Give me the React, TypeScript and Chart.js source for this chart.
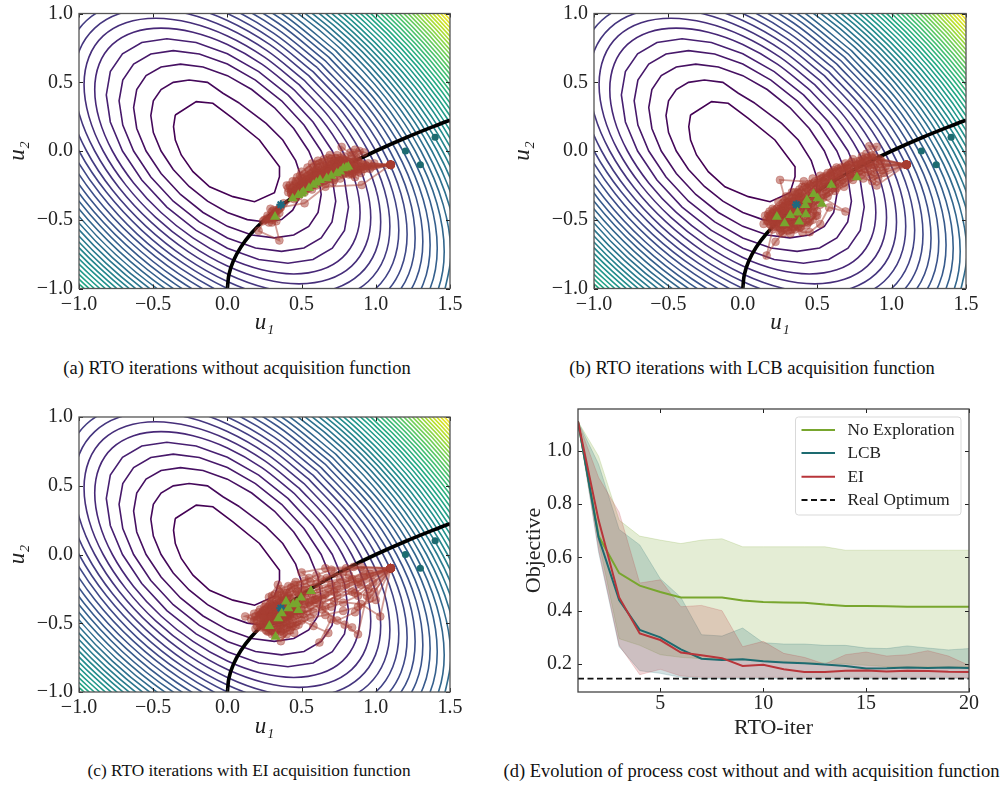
import React, { useEffect, useRef } from "react";
import { Chart, registerables } from "chart.js";
Chart.register(...registerables);

const FONT = "'Liberation Serif', 'Times New Roman', serif";

/* ---------- contour lines: [u1,u2,u1,u2,...] per level ---------- */
const contourLevels = [0.1,0.2,0.3,0.4,0.5,0.6,0.7,0.8,0.9,1.0,1.1,1.2,1.3,1.4,1.5,1.6,1.7,1.8,1.9,2.0,2.1,2.2,2.3,2.4,2.5,2.6,2.7,2.8,2.9,3.0,3.1,3.2,3.3,3.4,3.5,3.6,3.7,3.8,3.9,4.0,4.1,4.2,4.3,4.4,4.5,4.6,4.7];
const contourPaths: number[][][] = [
[[-.351,.262,-.21,.359,-.098,.347,.037,.238,.216,.08,.351,-.114,.351,-.187,.317,-.303,.183,-.369,.037,-.332,-.12,-.26,-.232,-.15,-.311,-.029,-.351,.08,-.363,.177,-.351,.262]],
[[.082,.347,.261,.201,.373,.08,.46,-.07,.50,-.2,.495,-.32,.44,-.43,.365,-.499,.258,-.516,.134,-.499,0,-.447,-.134,-.365,-.258,-.258,-.365,-.134,-.447,0,-.499,.134,-.516,.258,-.499,.365,-.447,.447,-.365,.499,-.258,.516,-.134,.499,-.03,.42,.082,.347]],
[[.316,.316,.447,.164,.548,0,.611,-.164,.632,-.316,.611,-.447,.548,-.548,.447,-.611,.316,-.632,.164,-.611,0,-.548,-.164,-.447,-.316,-.316,-.447,-.164,-.548,0,-.611,.164,-.632,.316,-.611,.447,-.548,.548,-.447,.611,-.316,.632,-.164,.611,0,.548,.164,.447,.316,.316]],
[[.365,.365,.516,.189,.632,0,.705,-.189,.730,-.365,.705,-.516,.632,-.632,.516,-.705,.365,-.730,.189,-.705,0,-.632,-.189,-.516,-.365,-.365,-.516,-.189,-.632,0,-.705,.189,-.730,.365,-.705,.516,-.632,.632,-.516,.705,-.365,.730,-.189,.705,0,.632,.189,.516,.365,.365]],
[[.408,.408,.577,.211,.707,0,.789,-.211,.816,-.408,.789,-.577,.707,-.707,.577,-.789,.408,-.816,.211,-.789,0,-.707,-.211,-.577,-.408,-.408,-.577,-.211,-.707,0,-.789,.211,-.816,.408,-.789,.577,-.707,.707,-.577,.789,-.408,.816,-.211,.789,0,.707,.211,.577,.408,.408]],
[[.447,.447,.632,.232,.775,0,.864,-.232,.894,-.447,.864,-.632,.775,-.775,.632,-.864,.447,-.894,.232,-.864,0,-.775,-.232,-.632,-.447,-.447,-.632,-.232,-.775,0,-.864,.232,-.894,.447,-.864,.632,-.775,.775,-.632,.864,-.447,.894,-.232,.864,0,.775,.232,.632,.447,.447]],
[[.483,.483,.683,.250,.837,0,.933,-.250,.966,-.483,.933,-.683,.837,-.837,.683,-.933,.483,-.966,.250,-.933,0,-.837,-.250,-.683,-.483,-.483,-.683,-.250,-.837,0,-.933,.250,-.966,.483,-.933,.683,-.837,.837,-.683,.933,-.483,.966,-.250,.933,0,.837,.250,.683,.483,.483]],
[[.516,.516,.730,.267,.894,0,.998,-.267,1.033,-.516,.998,-.730,.894,-.894,.730,-.998,.516,-1.033,.267,-.998,0,-.894,-.267,-.730,-.516,-.516,-.730,-.267,-.894,0,-.998,.267,-1.033,.516,-.998,.730,-.894,.894,-.730,.998,-.516,1.033,-.267,.998,0,.894,.267,.730,.516,.516]],
[[.548,.548,.775,.284,.949,0,1.058,-.284,1.095,-.548,1.058,-.775,.949,-.949,.775,-1.058,.548,-1.095,.284,-1.058,0,-.949,-.284,-.775,-.548,-.548,-.775,-.284,-.949,0,-1.058,.284,-1.095,.548,-1.058,.775,-.949,.949,-.775,1.058,-.548,1.095,-.284,1.058,0,.949,.284,.775,.548,.548]],
[[.577,.577,.816,.299,1,0,1.115,-.299,1.155,-.577,1.115,-.816,1,-1,.816,-1.115,.577,-1.155,.299,-1.115,0,-1,-.299,-.816,-.577,-.577,-.816,-.299,-1,0,-1.115,.299,-1.155,.577,-1.115,.816,-1,1,-.816,1.115,-.577,1.155,-.299,1.115,0,1,.299,.816,.577,.577]],
[[.606,.606,.856,.313,1.049,0,1.170,-.313,1.211,-.606,1.170,-.856,1.049,-1.049,.856,-1.170,.606,-1.211,.313,-1.170,0,-1.049,-.313,-.856,-.606,-.606,-.856,-.313,-1.049,0,-1.170,.313,-1.211,.606,-1.170,.856,-1.049,1.049,-.856,1.170,-.606,1.211,-.313,1.170,0,1.049,.313,.856,.606,.606]],
[[.632,.632,.894,.327,1.095,0,1.222,-.327,1.265,-.632,1.222,-.894,1.095,-1.095,.894,-1.222,.632,-1.265,.327,-1.222,0,-1.095,-.327,-.894,-.632,-.632,-.894,-.327,-1.095,0,-1.222,.327,-1.265,.632,-1.222,.894,-1.095,1.095,-.894,1.222,-.632,1.265,-.327,1.222,0,1.095,.327,.894,.632,.632]],
[[.658,.658,.931,.341,1.140,0,1.272,-.341,1.317,-.658,1.272,-.931,1.140,-1.140,.931,-1.272,.658,-1.317,.341,-1.272,0,-1.140,-.341,-.931,-.658,-.658,-.931,-.341,-1.140,0,-1.272,.341,-1.317,.658,-1.272,.931,-1.140,1.140,-.931,1.272,-.658,1.317,-.341,1.272,0,1.140,.341,.931,.658,.658]],
[[.683,.683,.966,.354,1.183,0,1.320,-.354,1.366,-.683,1.320,-.966,1.183,-1.183,.966,-1.320,.683,-1.366,.354,-1.320,0,-1.183,-.354,-.966,-.683,-.683,-.966,-.354,-1.183,0,-1.320,.354,-1.366,.683,-1.320,.966,-1.183,1.183,-.966,1.320,-.683,1.366,-.354,1.320,0,1.183,.354,.966,.683,.683]],
[[.707,.707,1.0,.366,1.225,0,1.366,-.366,1.414,-.707,1.366,-1.0,1.225,-1.225,1.0,-1.366,.707,-1.414,.366,-1.366,0,-1.225,-.366,-1.0,-.707,-.707,-1.0,-.366,-1.225,0,-1.366,.366,-1.414,.707,-1.366,1.0,-1.225,1.225,-1.0,1.366,-.707,1.414,-.366,1.366,0,1.225,.366,1.0,.707,.707]],
[[.730,.730,1.033,.378,1.265,0,1.411,-.378,1.461,-.730,1.411,-1.033,1.265,-1.265,1.033,-1.411,.730,-1.461,.378,-1.411,0,-1.265,-.378,-1.033,-.730,-.730,-1.033,-.378,-1.265,0,-1.411,.378,-1.461,.730,-1.411,1.033,-1.265,1.265,-1.033,1.411,-.730,1.461,-.378,1.411,0,1.265,.378,1.033,.730,.730]],
[[0,1.304,.390,1.065,.753,.753,1.065,.390,1.304,0,1.454,-.390,1.506,-.753,1.454,-1.065],[0,-1.304,-.390,-1.065,-.753,-.753,-1.065,-.390,-1.304,0]],
[[0,1.342,.401,1.095,.775,.775,1.095,.401,1.342,0,1.496,-.401,1.549,-.775],[0,-1.342,-.401,-1.095,-.775,-.775,-1.095,-.401,-1.342,0]],
[[0,1.378,.412,1.125,.796,.796,1.125,.412,1.378,0,1.537,-.412,1.592,-.796],[0,-1.378,-.412,-1.125,-.796,-.796,-1.125,-.412,-1.378,0]],
[[0,1.414,.423,1.155,.817,.817,1.155,.423,1.414,0,1.577,-.423,1.633,-.817],[0,-1.414,-.423,-1.155,-.817,-.817,-1.155,-.423,-1.414,0]],
[[0,1.449,.433,1.183,.837,.837,1.183,.433,1.449,0,1.616,-.433,1.673,-.837],[0,-1.449,-.433,-1.183,-.837,-.837,-1.183,-.433,-1.449,0]],
[[0,1.483,.443,1.211,.856,.856,1.211,.443,1.483,0,1.654,-.443,1.713,-.856],[0,-1.483,-.443,-1.211,-.856,-.856,-1.211,-.443,-1.483,0]],
[[0,1.517,.453,1.238,.876,.876,1.238,.453,1.517,0,1.692,-.453],[0,-1.517,-.453,-1.238,-.876,-.876,-1.238,-.453,-1.517,0]],
[[0,1.549,.463,1.265,.894,.894,1.265,.463,1.549,0,1.728,-.463],[0,-1.549,-.463,-1.265,-.894,-.894,-1.265,-.463,-1.549,0]],
[[0,1.581,.473,1.291,.913,.913,1.291,.473,1.581,0,1.764,-.473],[0,-1.581,-.473,-1.291,-.913,-.913,-1.291,-.473,-1.581,0]],
[[0,1.612,.482,1.317,.931,.931,1.317,.482,1.612,0,1.799,-.482],[0,-1.612,-.482,-1.317,-.931,-.931,-1.317,-.482,-1.612,0]],
[[0,1.643,.491,1.342,.949,.949,1.342,.491,1.643,0,1.833,-.491],[0,-1.643,-.491,-1.342,-.949,-.949,-1.342,-.491,-1.643,0]],
[[0,1.673,.500,1.366,.966,.966,1.366,.500,1.673,0,1.866,-.500],[0,-1.673,-.500,-1.366,-.966,-.966,-1.366,-.500,-1.673,0]],
[[0,1.703,.509,1.390,.983,.983,1.390,.509,1.703,0,1.899,-.509],[0,-1.703,-.509,-1.390,-.983,-.983,-1.390,-.509,-1.703,0]],
[[.518,1.414,1.0,1.0,1.414,.518,1.732,0,1.932,-.518]],
[[.526,1.438,1.017,1.017,1.438,.526,1.761,0,1.964,-.526]],
[[.535,1.461,1.033,1.033,1.461,.535,1.789,0,1.995,-.535]],
[[.543,1.483,1.049,1.049,1.483,.543,1.817,0,2.026,-.543]],
[[.551,1.506,1.065,1.065,1.506,.551,1.844,0,2.057,-.551]],
[[.559,1.527,1.080,1.080,1.527,.559,1.871,0,2.087,-.559]],
[[.567,1.549,1.096,1.096,1.549,.567,1.897,0,2.116,-.567]],
[[.575,1.571,1.111,1.111,1.571,.575,1.924,0,2.145,-.575]],
[[.583,1.592,1.126,1.126,1.592,.583,1.949,0,2.174,-.583]],
[[.590,1.612,1.140,1.140,1.612,.590,1.975,0,2.203,-.590]],
[[.598,1.633,1.155,1.155,1.633,.598,2,0,2.231,-.598]],
[[.605,1.653,1.169,1.169,1.653,.605,2.025,0,2.258,-.605]],
[[.613,1.673,1.183,1.183,1.673,.613,2.049,0,2.286,-.613]],
[[.620,1.693,1.197,1.197,1.693,.620,2.074,0,2.313,-.620]],
[[.627,1.713,1.211,1.211,1.713,.627,2.098,0,2.340,-.627]],
[[.634,1.732,1.225,1.225,1.732,.634,2.121,0,2.366,-.634]],
[[.641,1.751,1.238,1.238,1.751,.641,2.145,0,2.392,-.641]],
[[.648,1.770,1.252,1.252,1.770,.648,2.168,0,2.418,-.648]],
];

const constraintCurve = [0,-1,.01,-.9,.04,-.8,.09,-.7,.16,-.6,.25,-.5,.36,-.4,.49,-.3,.64,-.2,.81,-.1,1,0,1.21,.1,1.44,.2,1.5,.225];
const initialPoints = [1.2,0,1.3,-.1,1.4,.1];
const optimumPoint = [.36,-.39];

/* ---------- RTO runs ---------- */
const runsA = [
[1.10,-.10,.92,-.13,.85,-.11,.80,-.09,.74,-.11,.69,-.13,.66,-.16,.60,-.18,.56,-.23,.51,-.26,.47,-.30,.44,-.33,.46,-.29,.52,-.27,.58,-.21,.63,-.18,.68,-.15,.73,-.12,.78,-.10],
[1.10,-.10,.90,-.16,.82,-.13,.77,-.08,.72,-.07,.67,-.09,.62,-.09,.58,-.12,.55,-.14,.52,-.17,.49,-.18,.46,-.22,.42,-.25,.40,-.25,.41,-.30,.44,-.27,.50,-.22,.55,-.18,.60,-.14,.64,-.12,.70,-.10],
[1.10,-.10,.905,-.247,.66,-.26,.52,-.38,.36,-.41,.31,-.47,.28,-.52,.25,-.50,.21,-.58,.35,-.65,.31,-.48,.30,-.44,.33,-.43,.36,-.40],
[1.10,-.10,.95,-.09,.88,-.06,.86,.01,.92,-.01,.84,-.03,.77,.03,.76,-.05,.70,-.08,.72,-.15,.78,-.17,.86,-.19,.80,-.14,.75,-.16,.68,-.20,.63,-.22,.60,-.25,.55,-.27,.52,-.30,.48,-.33,.45,-.32],
[1.10,-.10,.98,-.11,.90,-.09,.83,-.06,.79,-.04,.73,-.05,.68,-.05,.64,-.08,.60,-.10,.57,-.16,.54,-.20,.50,-.24,.46,-.25,.43,-.28,.45,-.31,.49,-.27,.53,-.22,.59,-.17,.65,-.14,.71,-.11,.76,-.09,.81,-.11],
[1.10,-.10,.85,-.15,.70,-.18,.58,-.24,.46,-.34,.34,-.43,.30,-.50,.27,-.47,.33,-.51,.29,-.42],
[1.10,-.10,.88,-.13,.76,-.13,.66,-.19,.62,-.23,.57,-.28,.66,-.24,.72,-.21,.80,-.16,.84,-.17,.88,-.11,.82,-.08,.75,-.07,.69,-.11,.64,-.15,.59,-.19,.54,-.24,.49,-.30,.45,-.35],
[1.10,-.10,.96,-.13,.87,-.14,.81,-.11,.76,-.07,.70,-.06,.66,-.11,.63,-.14,.58,-.15,.55,-.20,.51,-.20,.48,-.25,.44,-.29,.47,-.27,.51,-.23,.57,-.19,.62,-.16,.67,-.12,.72,-.09,.79,-.07,.85,-.08],
[1.10,-.10,.93,-.10,.84,-.09,.79,-.12,.74,-.14,.70,-.15,.65,-.17,.61,-.20,.57,-.22,.53,-.25,.49,-.29,.46,-.32,.50,-.30,.54,-.26,.59,-.23,.64,-.20,.69,-.17,.74,-.15,.79,-.13,.83,-.10,.88,-.08],
[1.10,-.10,.99,-.09,.91,-.11,.86,-.13,.83,-.10,.78,-.06,.74,-.03,.69,-.03,.65,-.06,.61,-.07,.57,-.09,.54,-.12,.50,-.15,.47,-.19,.44,-.22,.41,-.27,.43,-.31,.47,-.26,.52,-.21,.56,-.17,.61,-.12],
[1.10,-.10,.91,-.12,.82,-.17,.76,-.20,.71,-.23,.65,-.22,.60,-.22,.56,-.25,.52,-.28,.48,-.31,.45,-.30,.49,-.25,.55,-.21,.61,-.16,.67,-.14,.73,-.10,.80,-.07,.87,-.05,.83,-.01,.89,.0],
[1.10,-.10,.94,-.11,.88,-.15,.84,-.16,.78,-.14,.73,-.13,.67,-.13,.63,-.16,.59,-.15,.54,-.18,.50,-.20,.46,-.24,.43,-.30,.47,-.32,.53,-.28,.57,-.25,.62,-.20,.68,-.18,.72,-.16,.77,-.12,.83,-.12],
[1.10,-.10,.80,-.12,.60,-.20,.44,-.33,.38,-.38,.35,-.42,.32,-.45,.29,-.47,.26,-.50,.30,-.52,.33,-.48,.35,-.45,.31,-.43,.27,-.49,.24,-.51],
];
const runsB = [
[1.10,-.10,.88,-.12,.80,-.09,.75,-.13,.68,-.15,.62,-.19,.55,-.23,.50,-.28,.44,-.33,.38,-.36,.33,-.41,.28,-.45,.24,-.47,.20,-.50,.25,-.53,.30,-.49,.36,-.47],
[1.10,-.10,.90,-.05,.85,.035,.90,.03,.87,-.03,.82,-.07,.76,-.11,.70,-.13,.64,-.17,.58,-.22,.52,-.27,.47,-.30,.41,-.35,.35,-.39,.29,-.38,.25,-.21,.41,-.22,.37,-.30,.33,-.34,.27,-.41],
[1.10,-.10,.90,-.25,.80,-.17,.72,-.18,.65,-.24,.60,-.27,.54,-.34,.69,-.44,.58,-.41,.52,-.53,.45,-.59,.40,-.59,.34,-.55,.27,-.60,.22,-.66,.16,-.76,.20,-.57,.15,-.47,.18,-.44,.23,-.42],
[1.10,-.10,.92,-.09,.86,-.08,.79,-.08,.71,-.10,.66,-.12,.59,-.16,.52,-.18,.47,-.20,.43,-.27,.38,-.28,.33,-.30,.29,-.33,.24,-.37,.20,-.42,.14,-.53,.19,-.54,.26,-.49,.31,-.53,.38,-.51],
[1.10,-.10,.94,-.14,.84,-.15,.76,-.18,.70,-.20,.63,-.22,.56,-.28,.49,-.33,.46,-.38,.42,-.42,.36,-.43,.31,-.46,.26,-.44,.22,-.48,.18,-.47,.23,-.55,.28,-.56,.35,-.50,.41,-.47,.47,-.44,.52,-.39],
[1.10,-.10,.86,-.10,.78,-.12,.72,-.15,.66,-.17,.60,-.20,.54,-.22,.51,-.25,.45,-.25,.40,-.31,.36,-.33,.30,-.37,.27,-.38,.23,-.44,.28,-.47,.33,-.47,.39,-.45,.44,-.42,.49,-.47,.44,-.52,.37,-.55],
[1.10,-.10,.88,-.18,.82,-.13,.74,-.16,.67,-.21,.62,-.25,.56,-.31,.50,-.35,.48,-.41,.43,-.46,.40,-.41,.34,-.45,.29,-.51,.24,-.52,.19,-.48,.26,-.40,.31,-.37,.37,-.36,.43,-.37],
[1.10,-.10,.84,-.05,.79,-.07,.73,-.08,.68,-.12,.61,-.14,.59,-.17,.53,-.20,.48,-.23,.44,-.24,.40,-.26,.35,-.30,.31,-.33,.28,-.36,.32,-.39,.37,-.41,.42,-.39,.46,-.35,.50,-.31,.55,-.26],
[1.10,-.10,.93,-.07,.87,-.05,.83,-.02,.80,-.04,.74,-.06,.69,-.09,.64,-.13,.60,-.15,.56,-.18,.51,-.21,.46,-.24,.42,-.26,.38,-.31,.34,-.34,.30,-.41,.26,-.45,.21,-.47,.17,-.51,.22,-.53,.27,-.52,.32,-.50],
[1.10,-.10,.96,-.11,.90,-.14,.84,-.11,.78,-.15,.73,-.19,.68,-.23,.63,-.27,.58,-.30,.53,-.32,.48,-.36,.44,-.39,.40,-.44,.36,-.46,.32,-.44,.29,-.43,.25,-.48,.21,-.52,.25,-.56,.31,-.55,.36,-.53,.42,-.49],
[1.10,-.10,.89,-.10,.83,-.09,.77,-.10,.71,-.12,.65,-.15,.60,-.18,.55,-.21,.50,-.23,.46,-.28,.42,-.31,.38,-.34,.34,-.37,.30,-.39,.25,-.42,.21,-.43,.17,-.46,.16,-.50,.21,-.55,.26,-.58,.30,-.58,.35,-.57],
[1.10,-.10,.91,-.20,.86,-.17,.79,-.14,.72,-.17,.65,-.19,.59,-.23,.54,-.26,.49,-.30,.45,-.33,.43,-.36,.39,-.38,.35,-.41,.31,-.43,.27,-.43,.23,-.47,.27,-.54,.33,-.57,.38,-.56,.43,-.54,.47,-.50,.50,-.44],
[1.10,-.10,.92,-.06,.86,-.04,.81,-.06,.76,-.09,.70,-.11,.63,-.12,.57,-.16,.54,-.19,.49,-.25,.44,-.29,.39,-.33,.34,-.36,.28,-.40,.24,-.43,.20,-.45,.24,-.50,.29,-.54,.34,-.53,.40,-.52,.46,-.47],
[1.10,-.10,.95,-.16,.87,-.22,.81,-.20,.74,-.21,.68,-.26,.62,-.29,.57,-.33,.52,-.36,.47,-.40,.43,-.43,.38,-.47,.33,-.52,.28,-.50,.22,-.50,.18,-.53,.25,-.59,.32,-.60,.39,-.55,.45,-.51,.50,-.47],
];
const runsC = [
[1.10,-.10,.85,-.09,.66,-.10,.50,-.13,.55,-.17,.45,-.22,.38,-.28,.34,-.22,.28,-.31,.30,-.38,.25,-.41,.18,-.43,.12,-.45,.20,-.48,.27,-.50,.33,-.46],
[1.10,-.10,1.03,-.45,.90,-.36,.72,-.34,.60,-.30,.52,-.34,.44,-.38,.36,-.42,.30,-.45,.24,-.46,.19,-.54,.26,-.55,.36,-.63,.40,-.58,.45,-.57],
[1.10,-.10,.95,-.25,.88,-.58,.79,-.51,.84,-.53,.70,-.47,.62,-.64,.68,-.57,.58,-.52,.50,-.48,.42,-.50,.36,-.54,.32,-.58,.27,-.56],
[1.10,-.10,.92,-.16,.80,-.22,.68,-.25,.57,-.29,.48,-.28,.41,-.30,.36,-.34,.31,-.36,.27,-.39,.23,-.43,.28,-.47,.34,-.50,.40,-.47],
[1.10,-.10,.98,-.20,.86,-.28,.74,-.30,.62,-.36,.54,-.41,.47,-.44,.38,-.46,.33,-.41,.40,-.35,.46,-.33,.52,-.30],
[1.10,-.10,.90,-.09,.78,-.13,.67,-.17,.60,-.21,.53,-.24,.47,-.27,.42,-.27,.37,-.31,.33,-.33,.29,-.40,.25,-.46,.31,-.52,.38,-.52,.44,-.48],
[1.10,-.10,1.00,-.33,.88,-.38,.78,-.41,.66,-.44,.56,-.46,.46,-.52,.40,-.53,.34,-.47,.30,-.43,.35,-.38,.41,-.36],
[1.10,-.10,.96,-.14,.88,-.20,.76,-.18,.70,-.22,.62,-.25,.54,-.28,.50,-.32,.44,-.34,.39,-.40,.34,-.44,.27,-.46,.22,-.51,.29,-.54],
[1.10,-.10,.94,-.30,.84,-.27,.72,-.27,.64,-.32,.56,-.37,.50,-.40,.43,-.42,.37,-.44,.31,-.41,.26,-.43],
[1.10,-.10,.99,-.27,.90,-.22,.82,-.15,.72,-.14,.63,-.18,.56,-.20,.49,-.22,.43,-.24,.40,-.28,.35,-.27,.30,-.34,.33,-.38,.38,-.37],
[1.10,-.10,.88,-.30,.78,-.35,.70,-.38,.58,-.42,.52,-.46,.45,-.45,.39,-.49,.35,-.52,.29,-.49],
[1.10,-.10,.92,-.12,.84,-.18,.74,-.23,.66,-.29,.59,-.33,.52,-.36,.47,-.38,.41,-.41,.36,-.39],
[1.10,-.10,.96,-.32,.86,-.42,.74,-.48,.64,-.40,.55,-.35,.48,-.36,.42,-.44],
[1.10,-.10,.80,-.10,.70,-.11,.60,-.15,.52,-.19,.46,-.20,.41,-.23,.36,-.25,.32,-.29],
[1.10,-.10,.60,-.33,.45,-.41,.38,-.40,.33,-.40,.27,-.44,.21,-.45,.16,-.47,.20,-.52,.25,-.52,.31,-.50,.36,-.49,.42,-.46],
[1.10,-.10,.66,-.38,.49,-.43,.41,-.44,.35,-.47,.30,-.47,.24,-.49,.28,-.53,.33,-.55,.38,-.57,.43,-.53,.48,-.51],
[1.10,-.10,.57,-.33,.43,-.37,.38,-.34,.34,-.30,.30,-.30,.26,-.36,.22,-.40,.19,-.45,.24,-.43,.29,-.44,.35,-.45,.41,-.43],
[1.10,-.10,.52,-.26,.40,-.32,.35,-.33,.30,-.37,.25,-.38,.21,-.42,.26,-.47,.32,-.46,.38,-.43,.44,-.40],
[1.10,-.10,.51,-.43,.39,-.43,.34,-.42,.29,-.45,.25,-.50,.30,-.55,.37,-.58,.42,-.55,.47,-.49],
[1.10,-.10,.50,-.29,.38,-.31,.33,-.36,.28,-.42,.22,-.44,.18,-.48,.23,-.52,.28,-.56,.34,-.54,.40,-.51],
[1.10,-.10,.46,-.41,.39,-.38,.34,-.38,.29,-.36,.26,-.40,.22,-.46,.27,-.48,.32,-.43,.37,-.40],
[1.10,-.10,.46,-.25,.42,-.32,.37,-.36,.33,-.39,.28,-.38,.24,-.41,.29,-.48,.35,-.48,.41,-.45],
[1.10,-.10,.45,-.36,.40,-.39,.35,-.43,.31,-.46,.26,-.47,.23,-.53,.30,-.58,.36,-.56,.44,-.52],
];
const finalA = [.321,-.478,.44,-.345,.478,-.32,.50,-.31,.512,-.296,.55,-.27,.579,-.247,.60,-.23,.624,-.211,.669,-.199,.70,-.18,.737,-.162,.76,-.15,.781,-.126,.80,-.12,.815,-.114];
const finalB = [.229,-.478,.281,-.526,.319,-.466,.379,-.514,.368,-.448,.424,-.46,.431,-.356,.42,-.393,.476,-.313,.503,-.344,.532,-.385,.595,-.247,.767,-.191];
const finalC = [.563,-.266,.283,-.52,.325,-.598,.343,-.464,.366,-.428,.395,-.343,.411,-.392,.467,-.355,.496,-.314,.478,-.404,.444,-.362];

/* ---------- panel (d) ---------- */
const iterations = [1,2,3,4,5,6,7,8,9,10,11,12,13,14,15,16,17,18,19,20];
const noExplorationMean = [1.11,.68,.541,.494,.47,.45,.45,.45,.438,.433,.431,.43,.423,.418,.418,.417,.415,.415,.415,.415];
const noExplorationUpper = [1.11,.98,.74,.68,.665,.652,.665,.67,.64,.64,.64,.64,.64,.627,.627,.627,.627,.627,.627,.627];
const noExplorationLower = [1.11,.66,.295,.27,.235,.225,.22,.22,.215,.21,.21,.205,.205,.2,.195,.19,.19,.19,.19,.19];
const lcbMean = [1.11,.675,.44,.328,.30,.255,.22,.215,.218,.21,.206,.203,.198,.193,.183,.184,.187,.185,.187,.185];
const lcbUpper = [1.11,.95,.705,.647,.52,.45,.31,.305,.335,.28,.275,.275,.27,.27,.26,.258,.268,.26,.253,.258];
const lcbLower = [1.11,.62,.265,.175,.165,.15,.145,.145,.145,.145,.145,.145,.145,.145,.145,.145,.145,.145,.145,.145];
const eiMean = [1.11,.74,.45,.315,.29,.243,.233,.222,.193,.197,.18,.17,.17,.175,.176,.172,.175,.174,.171,.17];
const eiUpper = [1.11,.90,.77,.504,.516,.415,.42,.40,.265,.285,.24,.225,.20,.235,.245,.23,.235,.25,.23,.195];
const eiLower = [1.11,.63,.27,.16,.18,.155,.15,.15,.15,.15,.15,.15,.15,.15,.15,.15,.15,.15,.15,.148];
const realOptimum = .145;
const legendLabels = ["No Exploration","LCB","EI","Real Optimum"];
const xTicksD = [5,10,15,20];
const yTicksD = [.2,.4,.6,.8,1];

const GREEN = "#78a62e", TEAL = "#1d6b70", RED = "#b8353a";
const BROWN = "rgba(168,62,50,0.5)";
const viridis = [[68,1,84],[72,36,117],[65,68,135],[53,95,141],[42,120,142],[33,145,140],[34,168,132],[68,191,112],[122,209,81],[189,223,38],[253,231,37]];
function viridisAt(f:number){
  const p=Math.min(.9999,Math.max(0,f))*10, i=Math.floor(p), r=p-i;
  const c=viridis[i].map((v,k)=>Math.round(v+(viridis[i+1][k]-v)*r));
  return `rgb(${c[0]},${c[1]},${c[2]})`;
}
const pts=(flat:number[])=>{const o:{x:number,y:number}[]=[];for(let i=0;i<flat.length;i+=2)o.push({x:flat[i],y:flat[i+1]});return o;};
const series=(v:number[])=>v.map((y,i)=>({x:iterations[i],y}));

const frameTicks={
  id:"frameTicks",
  afterDraw(chart:any){
    const {ctx,chartArea:a,scales}=chart; const o=chart.options.plugins.frameTicks;
    ctx.save(); ctx.strokeStyle="#222"; ctx.lineWidth=1;
    const len=4;
    for(const t of scales.x.ticks){const p=Math.round(scales.x.getPixelForValue(t.value))+.5;
      ctx.beginPath();ctx.moveTo(p,a.bottom);ctx.lineTo(p,a.bottom-len);ctx.moveTo(p,a.top);ctx.lineTo(p,a.top+len);ctx.stroke();}
    for(const t of scales.y.ticks){const p=Math.round(scales.y.getPixelForValue(t.value))+.5;
      ctx.beginPath();ctx.moveTo(a.left,p);ctx.lineTo(a.left+len,p);ctx.moveTo(a.right,p);ctx.lineTo(a.right-len,p);ctx.stroke();}
    ctx.strokeStyle=o?.color||"#444";ctx.lineWidth=1.3;ctx.strokeRect(a.left,a.top,a.right-a.left,a.bottom-a.top);
    ctx.restore();
  }
};
const legendBox={
  id:"legendBox",
  afterDatasetsDraw(chart:any){
    const o=chart.options.plugins.legendBox; if(!o||!o.show)return;
    const {ctx}=chart; const L=795.5-505,T=417-400,W=165.5,H=98;
    ctx.save();ctx.fillStyle="rgba(255,255,255,.85)";ctx.strokeStyle="#d9d9d9";ctx.lineWidth=1;
    ctx.beginPath();ctx.roundRect(L,T,W,H,3);ctx.fill();ctx.stroke();
    const rows=[430,453,476.7,500].map(v=>v-400), cols=[GREEN,TEAL,RED,"#111"];
    legendLabels.forEach((t,i)=>{
      ctx.beginPath();ctx.strokeStyle=cols[i];ctx.lineWidth=2;ctx.setLineDash(i===3?[6,3.5]:[]);
      ctx.moveTo(L+6,rows[i]);ctx.lineTo(L+39.5,rows[i]);ctx.stroke();ctx.setLineDash([]);
      ctx.fillStyle="#222";ctx.font=`17.3px ${FONT}`;ctx.textBaseline="middle";ctx.textAlign="left";
      ctx.fillText(t,L+52,rows[i]+.5);
    });
    ctx.restore();
  }
};
Chart.register(frameTicks as any,legendBox as any);

const noPadding=(s:any)=>{s.paddingTop=0;s.paddingBottom=0;s.paddingLeft=0;s.paddingRight=0;};
const tickFmt=(v:any)=>Number(v).toFixed(1).replace("-","\u2212");
function axes(xTitle:string,yTitle:string,yW:number,xH:number,italic:boolean,xPad:number,yTitlePad:number,xTitlePad:number){
  const titleFont={family:FONT,size:italic?23:22,style:(italic?"italic":"normal") as any};
  return {
    x:{type:"linear",afterFit:(s:any)=>{s.height=xH;noPadding(s);},grid:{display:false,drawTicks:false},border:{display:false},
       ticks:{font:{family:FONT,size:20},color:"#222",padding:xPad,maxRotation:0,autoSkip:false,callback:tickFmt},
       title:{display:true,text:xTitle,font:titleFont,color:"#222",padding:{top:0,bottom:xTitlePad}}},
    y:{type:"linear",afterFit:(s:any)=>{s.width=yW;noPadding(s);},grid:{display:false,drawTicks:false},border:{display:false},
       ticks:{font:{family:FONT,size:20},color:"#222",padding:6,autoSkip:false,callback:tickFmt},
       title:{display:true,text:yTitle,font:titleFont,color:"#222",padding:{top:yTitlePad,bottom:0}}}
  } as any;
}

function contourDatasets(){
  const out:any[]=[];
  contourPaths.forEach((arcs,i)=>{
    const level=contourLevels[i];
    arcs.forEach(a=>out.push({data:pts(a),showLine:true,pointRadius:0,borderWidth:1.6,
      borderColor:viridisAt((level-.1)/4.6),tension:level<.55?0:.33,order:50,fill:false}));
  });
  return out;
}
function mapConfig(runs:number[][],finals:number[],yW:number,top:number,right:number,xH:number){
  const ds=contourDatasets();
  ds.push({data:pts(constraintCurve),showLine:true,pointRadius:0,borderWidth:3.6,borderColor:"#000",tension:.33,order:40});
  ds.push({data:pts(initialPoints),showLine:false,pointRadius:3.6,pointBackgroundColor:TEAL,pointBorderWidth:0,order:30});
  runs.forEach(r=>ds.push({data:pts(r),showLine:true,borderColor:BROWN,borderWidth:1.8,pointRadius:4,pointBackgroundColor:BROWN,pointBorderColor:BROWN,pointBorderWidth:.6,tension:0,order:20}));
  ds.push({data:pts(optimumPoint),showLine:false,pointStyle:"star",pointRadius:4.5,pointBorderColor:"#1b6a80",pointBorderWidth:2,order:15});
  ds.push({data:pts(finals),showLine:false,pointStyle:"triangle",pointRadius:5.8,pointBackgroundColor:GREEN,pointBorderWidth:0,order:10});
  const scales=axes("u\u2081","u\u2082",yW,xH,true,4,4,8);
  Object.assign(scales.x,{min:-1,max:1.5}); scales.x.ticks.stepSize=.5;
  Object.assign(scales.y,{min:-1,max:1}); scales.y.ticks.stepSize=.5;
  return {type:"scatter",data:{datasets:ds},options:{responsive:false,animation:false,
    layout:{padding:{top,right,left:0,bottom:0}},
    elements:{line:{capBezierPoints:false}},
    plugins:{legend:{display:false},tooltip:{enabled:false},legendBox:{show:false},frameTicks:{color:"#555"}},scales}} as any;
}
function lineDs(v:number[],color:string,width:number,extra:any={}){
  return {data:series(v),showLine:true,pointRadius:0,borderColor:color,borderWidth:width,tension:0,...extra};
}
function objectiveConfig(){
  const bandLine=(c:string)=>c+"33";
  const ds:any[]=[
    lineDs(noExplorationUpper,bandLine(GREEN),1,{fill:{target:1},backgroundColor:"rgba(120,166,46,.2)",order:9}),
    lineDs(noExplorationLower,bandLine(GREEN),1,{order:9}),
    lineDs(lcbUpper,bandLine(TEAL),1,{fill:{target:3},backgroundColor:"rgba(29,107,112,.2)",order:8}),
    lineDs(lcbLower,bandLine(TEAL),1,{order:8}),
    lineDs(eiUpper,bandLine(RED),1,{fill:{target:5},backgroundColor:"rgba(184,53,58,.2)",order:7}),
    lineDs(eiLower,bandLine(RED),1,{order:7}),
    lineDs(noExplorationMean,GREEN,2,{order:3,label:legendLabels[0]}),
    lineDs(lcbMean,TEAL,2,{order:2,label:legendLabels[1]}),
    lineDs(eiMean,RED,2,{order:1,label:legendLabels[2]}),
    {data:[{x:1,y:realOptimum},{x:20,y:realOptimum}],showLine:true,pointRadius:0,borderColor:"#111",borderWidth:1.8,borderDash:[6,3.5],order:0,label:legendLabels[3]},
  ];
  const scales=axes("RTO-iter","Objective",73,53,false,0,16,4);
  Object.assign(scales.x,{min:1,max:20,afterBuildTicks:(s:any)=>{s.ticks=xTicksD.map(value=>({value}));}});
  scales.x.ticks.callback=(v:any)=>String(v);
  Object.assign(scales.y,{min:.095,max:1.157,afterBuildTicks:(s:any)=>{s.ticks=yTicksD.map(value=>({value}));}});
  return {type:"scatter",data:{datasets:ds},options:{responsive:false,animation:false,
    layout:{padding:{top:9,right:38,left:0,bottom:0}},
    plugins:{legend:{display:false},tooltip:{enabled:false},legendBox:{show:true},filler:{propagate:false},frameTicks:{color:"#444"}},scales}} as any;
}

function Panel({left,top,width,height,config}:{left:number,top:number,width:number,height:number,config:()=>any}){
  const ref=useRef<HTMLCanvasElement>(null);
  useEffect(()=>{
    const c=new Chart(ref.current as any,config());
    return ()=>c.destroy();
  },[]);
  return <canvas ref={ref} width={width} height={height} style={{position:"absolute",left,top,width,height}}/>;
}
const captions=[
  {t:"(a) RTO iterations without acquisition function",cx:237,y:368,size:18.5},
  {t:"(b) RTO iterations with LCB acquisition function",cx:752,y:368,size:18.5},
  {t:"(c) RTO iterations with EI acquisition function",cx:249,y:771,size:17.3},
  {t:"(d) Evolution of process cost without and with acquisition function",cx:751.5,y:771,size:18.5},
];
export default function App(){
  return (
    <div style={{position:"absolute",left:0,top:0,width:1007,height:787,background:"#fff",overflow:"hidden"}}>
      <Panel left={0} top={0} width={480} height={345} config={()=>mapConfig(runsA,finalA,79,13.5,30,56.5)}/>
      <Panel left={505} top={0} width={502} height={345} config={()=>mapConfig(runsB,finalB,89,13.5,41,56.5)}/>
      <Panel left={0} top={404} width={480} height={345} config={()=>mapConfig(runsC,finalC,79,13,30,57)}/>
      <Panel left={505} top={400} width={502} height={345} config={objectiveConfig}/>
      {captions.map(c=>(
        <div key={c.t} style={{position:"absolute",left:c.cx,top:c.y,transform:"translate(-50%,-50%)",whiteSpace:"nowrap",font:`${c.size}px ${FONT}`,color:"#111"}}>{c.t}</div>
      ))}
    </div>
  );
}
